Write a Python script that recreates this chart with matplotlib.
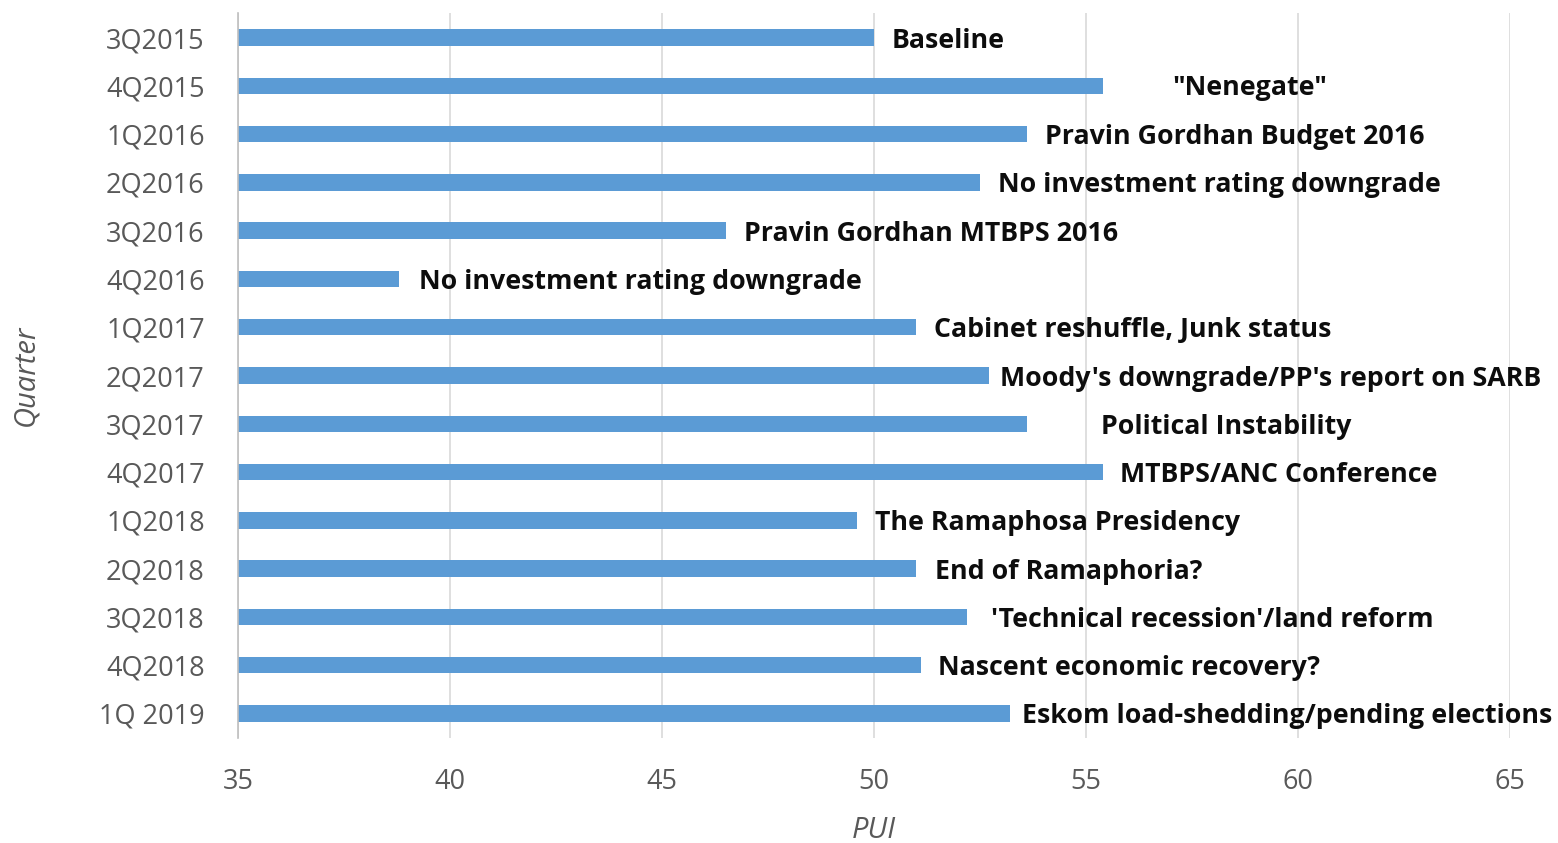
import matplotlib
matplotlib.use('Agg')
import matplotlib.pyplot as plt

# quarters and PUI values
quarters = ['3Q2015', '4Q2015', '1Q2016', '2Q2016', '3Q2016', '4Q2016',
            '1Q2017', '2Q2017', '3Q2017', '4Q2017', '1Q2018', '2Q2018',
            '3Q2018', '4Q2018', '1Q 2019']
pui = [50.0, 55.4, 53.6, 52.5, 46.5, 38.8,
       51.0, 52.7, 53.6, 55.4, 49.6, 51.0,
       52.2, 51.1, 53.2]
events = ['Baseline', '"Nenegate"', 'Pravin Gordhan Budget 2016',
          'No investment rating downgrade', 'Pravin Gordhan MTBPS 2016',
          'No investment rating downgrade', 'Cabinet reshuffle, Junk status',
          "Moody's downgrade/PP's report on SARB", 'Political Instability',
          'MTBPS/ANC Conference', 'The Ramaphosa Presidency',
          'End of Ramaphoria?', "'Technical recession'/land reform",
          'Nascent economic recovery?', 'Eskom load-shedding/pending elections']

# label offsets in pixels (a few labels were dragged in the original)
label_dx = [18, 69, 18, 18, 18, 20, 18, 11, 74, 17, 18, 19, 24, 17, 12]
label_dy = [-3, -2, -3, -3, -3, -3, -3, -3, -3, -3, -3, -3, -3, -3, -3]

bar_color = '#5b9bd5'
grey = '#595959'

fig = plt.figure(figsize=(15.58, 8.43), dpi=100)
ax = fig.add_axes([0.1528, 0.1251, 0.8164, 0.8589])

ypos = list(range(len(quarters)))
ax.barh(ypos, [v - 35 for v in pui], left=35, height=0.34, color=bar_color, zorder=2)

for i, (v, txt) in enumerate(zip(pui, events)):
    ax.annotate(txt, (v, i), xytext=(label_dx[i], label_dy[i]), textcoords='offset pixels',
                ha='left', va='center', fontsize=19.3, fontweight='bold',
                family='Open Sans', color='#0d0d0d', zorder=3)

ax.set_xlim(35, 65)
ax.set_ylim(len(quarters) - 0.5, -0.5)
ax.set_xticks(range(35, 66, 5))
ax.set_yticks(ypos)
ax.set_yticklabels(quarters)

ax.grid(axis='x', color='#d9d9d9', linewidth=1.2, zorder=0)
for s in ['top', 'right', 'bottom']:
    ax.spines[s].set_visible(False)
ax.spines['left'].set_color('#bfbfbf')
ax.spines['left'].set_linewidth(1.2)
ax.tick_params(axis='both', length=0, labelsize=19.5, labelcolor=grey)
ax.tick_params(axis='y', pad=24)
ax.tick_params(axis='x', pad=22)
for lab in ax.get_xticklabels() + ax.get_yticklabels():
    lab.set_family('Open Sans')

ax.set_xlabel('PUI', fontsize=21, style='italic', color=grey, family='Open Sans', labelpad=14)
ax.set_ylabel('Quarter', fontsize=21, style='italic', color=grey, family='Open Sans', labelpad=42)

plt.savefig('out.png', dpi=100)
